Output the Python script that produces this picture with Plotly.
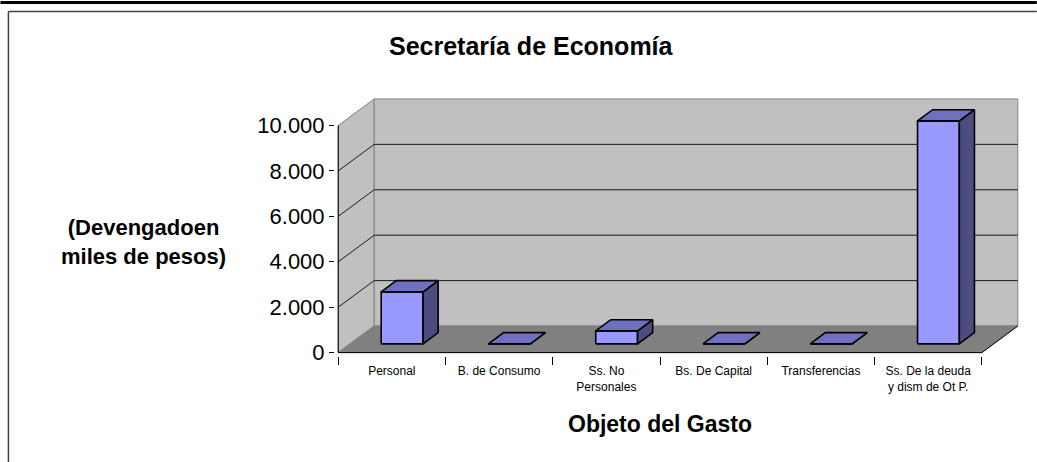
import plotly.graph_objects as go

# ---- data ----
categories = ["Personal", "B. de Consumo", "Ss. No<br>Personales", "Bs. De Capital",
              "Transferencias", "Ss. De la deuda<br>y dism de Ot P."]
values = [2290, 0, 570, 0, 0, 9820]
y_tickvals = [0, 2000, 4000, 6000, 8000, 10000]
y_ticktext = ["0", "2.000", "4.000", "6.000", "8.000", "10.000"]
title_text = "Secretaría de Economía"
x_title = "Objeto del Gasto"
y_title = "(Devengadoen<br>miles de pesos)"

# ---- 3D-look geometry (in data units) ----
N = len(categories)
YMAX = 10000
DX = 0.3354          # depth offset in category units
DY = 1170            # depth offset in value units
A, W = 0.29, 0.39    # bar left offset / width inside category
F0, F1 = 0.33, 0.75  # bar depth span (fraction)

# pixel mapping of the plot (front origin at 338,353; 107.33 px/category; 22.7 px/1000)
PX_X, PX_Y = 107.33, 0.0227
PADX, PADY = 0.03, 150
xr = [-PADX, N + DX + PADX]
yr = [-PADY, YMAX + DY - 20 + PADY]
left = 338 - PADX * PX_X
right_px = left + (xr[1] - xr[0]) * PX_X
bottom_px = 353 + PADY * PX_Y
top_px = bottom_px - (yr[1] - yr[0]) * PX_Y
W_FIG, H_FIG = 1037, 462


def px2paper_x(px):
    return (px - left) / (right_px - left)


def px2paper_y(py):
    return (bottom_px - py) / (bottom_px - top_px)


fig = go.Figure()


def poly(xs, ys, fill, lc, lw=1.0):
    fig.add_trace(go.Scatter(x=list(xs) + [xs[0]], y=list(ys) + [ys[0]], mode="lines",
                             fill="toself", fillcolor=fill,
                             line=dict(color=lc, width=lw),
                             hoverinfo="skip", showlegend=False))


def line(xs, ys, color, lw=1.0):
    fig.add_trace(go.Scatter(x=xs, y=ys, mode="lines", line=dict(color=color, width=lw),
                             hoverinfo="skip", showlegend=False))


WALL = "#c0c0c0"
FLOOR = "#808080"
EDGE = "#808080"

# side wall, back wall, floor
poly([0, DX, DX, 0], [0, DY, YMAX + DY, YMAX], WALL, EDGE)
poly([DX, N + DX, N + DX, DX], [DY, DY, YMAX + DY, YMAX + DY], WALL, EDGE)
poly([0, N, N + DX, DX], [0, 0, DY, DY], FLOOR, FLOOR)

# gridlines
for v in y_tickvals[1:-1]:
    line([0, DX, N + DX], [v, v + DY, v + DY], "#1a1a1a", 1)

# front axis lines
line([0, 0], [0, YMAX], "#000000", 1)
line([0, N, N + DX], [0, 0, DY], "#000000", 1)

# bars
FRONT, TOP, SIDE = "#9999ff", "#7070c2", "#4c4c80"
for i, v in enumerate(values):
    xl = i + A
    xrr = xl + W
    # front
    poly([xl + F0 * DX, xrr + F0 * DX, xrr + F0 * DX, xl + F0 * DX],
         [F0 * DY, F0 * DY, v + F0 * DY, v + F0 * DY], FRONT, "#000000", 1.6)
    # side
    poly([xrr + F0 * DX, xrr + F1 * DX, xrr + F1 * DX, xrr + F0 * DX],
         [F0 * DY, F1 * DY, v + F1 * DY, v + F0 * DY], SIDE, "#000000", 1.6)
    # top
    poly([xl + F0 * DX, xrr + F0 * DX, xrr + F1 * DX, xl + F1 * DX],
         [v + F0 * DY, v + F0 * DY, v + F1 * DY, v + F1 * DY], TOP, "#000000", 1.6)

FONT = "Liberation Sans, Arial, sans-serif"

fig.update_layout(
    width=W_FIG, height=H_FIG,
    margin=dict(l=left, r=W_FIG - right_px, t=top_px, b=H_FIG - bottom_px, pad=0),
    paper_bgcolor="white", plot_bgcolor="white",
    showlegend=False,
    xaxis=dict(range=xr, showgrid=False, zeroline=False, showline=False,
               tickmode="array", tickvals=[i + 0.5 for i in range(N)], ticktext=categories,
               ticks="outside", ticklen=4, tickcolor="rgba(0,0,0,0)",
               tickfont=dict(family=FONT, size=12, color="#000000"),
               minor=dict(tickmode="array", tickvals=list(range(N + 1)), ticks="outside",
                          ticklen=8, tickcolor="#000000", tickwidth=1, showgrid=False),
               fixedrange=True),
    yaxis=dict(range=yr, showgrid=False, zeroline=False, showline=False,
               tickmode="array", tickvals=y_tickvals, ticktext=y_ticktext,
               ticks="outside", ticklen=5, tickcolor="#000000", tickwidth=1,
               tickfont=dict(family=FONT, size=22, color="#000000"),
               fixedrange=True),
    annotations=[
        dict(text="<b>" + title_text + "</b>", x=px2paper_x(531), y=px2paper_y(47),
             xref="paper", yref="paper", showarrow=False, xanchor="center", yanchor="middle",
             font=dict(family=FONT, size=25, color="#000000")),
        dict(text="<b>" + x_title + "</b>", x=px2paper_x(660), y=px2paper_y(424),
             xref="paper", yref="paper", showarrow=False, xanchor="center", yanchor="middle",
             font=dict(family=FONT, size=23, color="#000000")),
        dict(text="<b>" + y_title + "</b>", x=px2paper_x(143), y=px2paper_y(242),
             xref="paper", yref="paper", showarrow=False, xanchor="center", yanchor="middle",
             align="center",
             font=dict(family=FONT, size=22, color="#000000")),
    ],
    shapes=[
        dict(type="line", xref="paper", yref="paper",
             x0=px2paper_x(0), x1=px2paper_x(1037), y0=px2paper_y(3), y1=px2paper_y(3),
             line=dict(color="#000000", width=3)),
        dict(type="line", xref="paper", yref="paper",
             x0=px2paper_x(8), x1=px2paper_x(1037), y0=px2paper_y(12), y1=px2paper_y(12),
             line=dict(color="#404040", width=1.5)),
        dict(type="line", xref="paper", yref="paper",
             x0=px2paper_x(8), x1=px2paper_x(8), y0=px2paper_y(12), y1=px2paper_y(470),
             line=dict(color="#404040", width=1.5)),
    ],
)

fig.write_html("out.html", config={"displayModeBar": False},
               post_script="document.body.style.margin='0';")
